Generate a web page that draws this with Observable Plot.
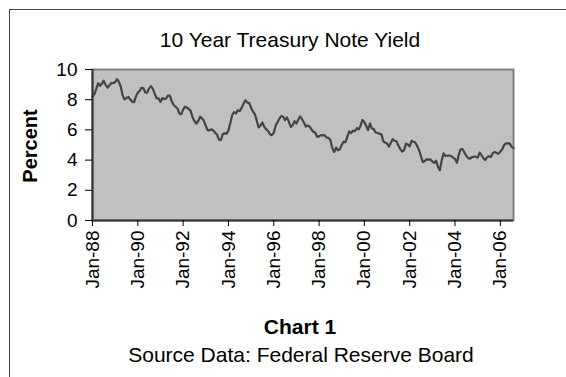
<!DOCTYPE html>
<html><head><meta charset="utf-8">
<script src="https://cdn.jsdelivr.net/npm/d3@7"></script>
<script src="https://cdn.jsdelivr.net/npm/@observablehq/plot@0.6"></script>
<style>
body{margin:0;background:#fff;font-family:"Liberation Sans",Arial,sans-serif;}
#wrap{position:relative;width:566px;height:377px;overflow:hidden;background:#fff}
#frame{position:absolute;left:9px;top:9px;width:620px;height:420px;border:1px solid #444;box-sizing:border-box}
#chart{position:absolute;left:0;top:0}
.t{position:absolute;white-space:nowrap;color:#000;transform:translate(-50%,-50%);line-height:1}
</style></head><body>
<div id="wrap">
<div id="frame"></div>
<div id="chart"></div>
<div class="t" id="title" style="left:290px;top:39px;font-size:21px">10 Year Treasury Note Yield</div>
<div class="t" id="ylab" style="left:30px;top:146px;font-size:20px;font-weight:bold;transform:translate(-50%,-50%) rotate(-90deg)">Percent</div>
<div class="t" id="cap1" style="left:300px;top:326px;font-size:21px;font-weight:bold">Chart 1</div>
<div class="t" id="cap2" style="left:301px;top:354px;font-size:21px">Source Data: Federal Reserve Board</div>
</div>
<script>
// Monthly 10-year yield (%), first point Jan-88
const yields = [
  8.21, 8.37, 8.72, 9.09, 8.92, 9.06, 9.26, 8.98, 8.80, 8.96, 9.11,
  9.09, 9.17, 9.36, 9.18, 8.86, 8.28, 8.02, 8.11, 8.19, 8.01, 7.87, 7.84,
  8.21, 8.47, 8.59, 8.79, 8.76, 8.48, 8.47, 8.75, 8.89, 8.72, 8.39, 8.08,
  8.09, 7.85, 8.11, 8.04, 8.07, 8.28, 8.27, 7.90, 7.65, 7.53, 7.42, 7.09,
  7.03, 7.34, 7.54, 7.48, 7.39, 7.26, 6.84, 6.59, 6.42, 6.59, 6.87, 6.77,
  6.60, 6.26, 5.98, 5.97, 6.04, 5.96, 5.81, 5.68, 5.36, 5.33, 5.72, 5.77,
  5.75, 5.97, 6.48, 6.97, 7.18, 7.10, 7.30, 7.24, 7.46, 7.74, 7.96, 7.81,
  7.78, 7.47, 7.20, 7.06, 6.63, 6.17, 6.28, 6.49, 6.20, 6.04, 5.93, 5.71,
  5.65, 5.81, 6.27, 6.51, 6.74, 6.91, 6.87, 6.64, 6.83, 6.53, 6.20, 6.30,
  6.58, 6.42, 6.69, 6.89, 6.71, 6.49, 6.22, 6.30, 6.21, 6.03, 5.88, 5.81,
  5.54, 5.57, 5.65, 5.64, 5.65, 5.50, 5.46, 5.34, 4.81, 4.53, 4.83, 4.65,
  4.72, 5.00, 5.23, 5.18, 5.54, 5.90, 5.79, 5.94, 5.92, 6.11, 6.03, 6.28,
  6.66, 6.52, 6.26, 5.99, 6.44, 6.10, 6.05, 5.83, 5.80, 5.74, 5.72, 5.24,
  5.16, 5.10, 4.89, 5.14, 5.39, 5.28, 5.24, 4.97, 4.73, 4.57, 4.65, 5.09,
  5.04, 4.91, 5.28, 5.21, 5.16, 4.93, 4.65, 4.26, 3.87, 3.94, 4.05, 4.03,
  4.05, 3.90, 3.81, 3.96, 3.57, 3.33, 3.98, 4.45, 4.27, 4.29, 4.30, 4.27,
  4.15, 4.08, 3.83, 4.35, 4.72, 4.73, 4.50, 4.28, 4.13, 4.10, 4.19, 4.23,
  4.22, 4.17, 4.50, 4.34, 4.14, 4.00, 4.18, 4.26, 4.20, 4.46, 4.54, 4.47,
  4.42, 4.57, 4.72, 4.99, 5.11, 5.11, 5.09, 4.88, 4.80
];
const startYear = 1988;
const yTicks = [0, 2, 4, 6, 8, 10];
const xTickYears = [1988, 1990, 1992, 1994, 1996, 1998, 2000, 2002, 2004, 2006];
const xTickLabels = ["Jan-88", "Jan-90", "Jan-92", "Jan-94", "Jan-96", "Jan-98", "Jan-00", "Jan-02", "Jan-04", "Jan-06"];

const data = yields.map((v, i) => ({date: new Date(Date.UTC(startYear, i, 1)), value: v}));
const first = data[0].date, last = data[data.length - 1].date;

const chart = Plot.plot({
  width: 566, height: 377,
  marginLeft: 92, marginRight: 53, marginTop: 69, marginBottom: 157,
  style: {fontFamily: "'Liberation Sans', Arial, sans-serif", fontSize: "19px", color: "#000", background: "transparent", overflow: "visible"},
  x: {type: "utc", domain: [first, last], label: null},
  y: {domain: [0, 10], label: null},
  marks: [
    Plot.frame({fill: "#c0c0c0", stroke: "#808080", strokeWidth: 2}),
    Plot.line(data, {x: "date", y: "value", stroke: "#444", strokeWidth: 2.2}),
    Plot.ruleY([0], {stroke: "#333", strokeWidth: 2}),
    Plot.ruleX([first], {stroke: "#333", strokeWidth: 2}),
    Plot.axisY({ticks: yTicks, tickSize: 7, tickPadding: 8, label: null, fontSize: 19}),
    Plot.axisX({
      ticks: xTickYears.map(y => new Date(Date.UTC(y, 0, 1))),
      tickFormat: d => xTickLabels[xTickYears.indexOf(d.getUTCFullYear())],
      tickRotate: -90, tickSize: 6, tickPadding: 4, label: null, fontSize: 19
    })
  ]
});
document.getElementById("chart").appendChild(chart);
</script>
</body></html>
